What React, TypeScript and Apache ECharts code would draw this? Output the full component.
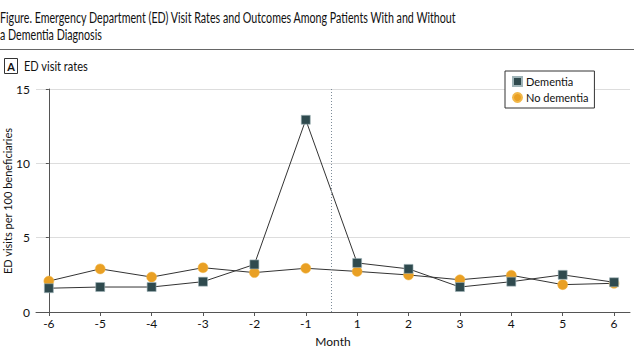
import React, { useEffect, useRef } from "react";
import * as echarts from "echarts";

const months = ["-6", "-5", "-4", "-3", "-2", "-1", "1", "2", "3", "4", "5", "6"];
const dementia = [1.6, 1.68, 1.68, 2.04, 3.2, 12.93, 3.3, 2.9, 1.68, 2.04, 2.5, 2.0];
const noDementia = [2.08, 2.9, 2.35, 2.98, 2.65, 2.94, 2.73, 2.49, 2.17, 2.47, 1.84, 1.93];
const yTicks = [0, 5, 10, 15];

const FONT = "Lato, 'Noto Sans', sans-serif";

export default function App() {
  const ref = useRef<HTMLDivElement>(null);
  useEffect(() => {
    const chart = echarts.init(ref.current!, null, { renderer: "svg" });
    const idx = months.map((_, i) => i);
    chart.setOption({
      animation: false,
      textStyle: { fontFamily: FONT },
      graphic: [
        { type: "text", x: 0, y: 17, scaleX: 0.69, style: { text: "Figure. Emergency Department (ED) Visit Rates and Outcomes Among Patients With and Without", fontSize: 15.5, fontFamily: FONT, fill: "#111", verticalAlign: "middle" } },
        { type: "text", x: 0, y: 34, scaleX: 0.69, style: { text: "a Dementia Diagnosis", fontSize: 15.5, fontFamily: FONT, fill: "#111", verticalAlign: "middle" } },
        { type: "line", shape: { x1: 0, y1: 49.5, x2: 634, y2: 49.5 }, style: { stroke: "#666", lineWidth: 1 } },
        { type: "rect", shape: { x: 4.5, y: 58.5, width: 13, height: 15 }, style: { fill: "#fff", stroke: "#333", lineWidth: 1 } },
        { type: "text", x: 11, y: 66, style: { text: "A", fontSize: 11, fontWeight: "bold", fontFamily: FONT, fill: "#111", align: "center", verticalAlign: "middle" } },
        { type: "text", x: 24, y: 66, scaleX: 0.85, style: { text: "ED visit rates", fontSize: 13, fontFamily: FONT, fill: "#111", verticalAlign: "middle" } },
        { type: "text", x: 7, y: 201, rotation: Math.PI / 2, scaleX: 0.92, style: { text: "ED visits per 100 beneficiaries", fontSize: 12, fontFamily: FONT, fill: "#111", align: "center", verticalAlign: "middle" } },
      ],
      legend: {
        left: 505,
        top: 71,
        orient: "vertical",
        backgroundColor: "#fff",
        borderColor: "#333",
        borderWidth: 1,
        borderRadius: 0,
        padding: [5, 6, 5, 7],
        itemWidth: 9,
        itemHeight: 9,
        itemGap: 5,
        textStyle: { fontSize: 11, color: "#111", fontFamily: FONT, padding: [0, 0, 0, -1] },
        data: [
          { name: "Dementia", icon: "rect" },
          { name: "No dementia", icon: "circle" },
        ],
      },
      grid: { left: 36, right: 4, top: 89, bottom: 40, outerBoundsMode: "none", containLabel: false },
      xAxis: {
        type: "value",
        min: -0.25,
        max: 11.31,
        name: "Month",
        nameLocation: "middle",
        nameGap: 23,
        nameMoveOverlap: false,
        nameTextStyle: { fontSize: 12, color: "#111", fontFamily: FONT },
        splitLine: { show: false },
        axisLine: { lineStyle: { color: "#555", width: 1 } },
        axisTick: { show: true, customValues: idx, length: 4, lineStyle: { color: "#555" } },
        axisLabel: {
          customValues: idx,
          fontSize: 12,
          color: "#111",
          margin: 5,
          formatter: (v: number) => months[Math.round(v)],
        },
      },
      yAxis: {
        type: "value",
        min: 0,
        max: 15,
        interval: 5,
        axisLine: { show: true, lineStyle: { color: "#555", width: 1 } },
        axisTick: { show: true, length: 3, lineStyle: { color: "#555" } },
        axisLabel: { fontSize: 12, color: "#111", margin: 6, customValues: yTicks },
        splitLine: { show: true, lineStyle: { color: "#ddd", width: 1 } },
      },
      series: [
        {
          name: "No dementia",
          type: "line",
          data: noDementia.map((v, i) => [i, v]),
          symbol: "circle",
          symbolSize: 10,
          itemStyle: { color: "#E9A024", borderColor: "#F2B84A", borderWidth: 0.5 },
          lineStyle: { color: "#333", width: 1 },
          z: 2,
          markLine: {
            silent: true,
            symbol: "none",
            label: { show: false },
            lineStyle: { color: "#7d8c99", type: [1, 2], width: 1 },
            data: [{ xAxis: 5.5 }],
          },
        },
        {
          name: "Dementia",
          type: "line",
          data: dementia.map((v, i) => [i, v]),
          symbol: "rect",
          symbolSize: 9,
          itemStyle: { color: "#2F4A4E", borderColor: "#9fb4b8", borderWidth: 0.6 },
          lineStyle: { color: "#333", width: 1 },
          z: 3,
        },
      ],
    });
    return () => chart.dispose();
  }, []);
  return <div ref={ref} style={{ width: 634, height: 352, position: "fixed", left: 0, top: 0, background: "#fff" }} />;
}
